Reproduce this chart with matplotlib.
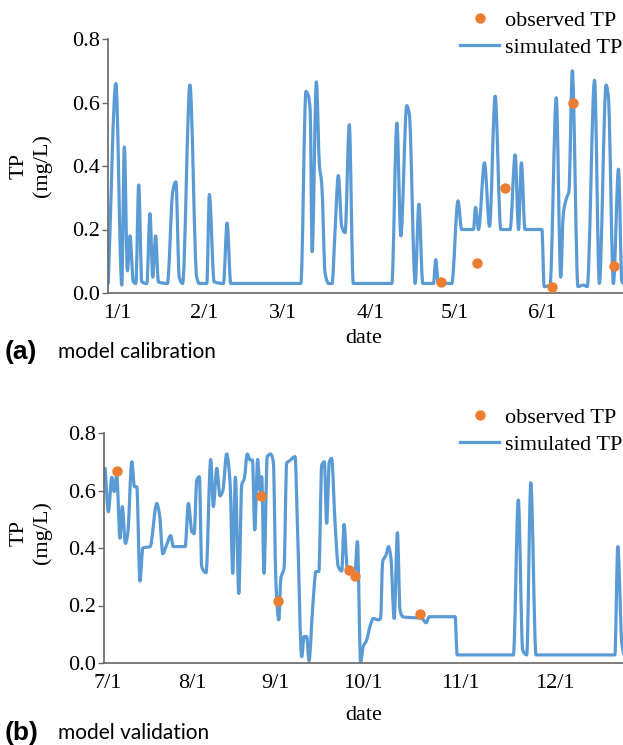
import matplotlib
matplotlib.use("Agg")
import matplotlib.pyplot as plt
import numpy as np
from matplotlib.path import Path
from matplotlib.patches import PathPatch
from matplotlib.lines import Line2D

# ---------------- data: panel (a) model calibration (days since 1/1) ----------------
cal_sim_day = [-3.1, -0.4, 1.7, 2.6, 3.7, 4.6, 5.8, 6.7, 7.7, 8.8, 10.6, 11.7, 12.7, 13.7, 14.7,
               17.9, 19.8, 20.9, 22.1, 23.3, 25.9, 28.3, 29.2, 31.9, 32.8, 34.5, 37.8, 39.1, 40.4,
               65.3, 67.1, 68.0, 68.6, 69.3, 70.8, 71.9, 72.7, 73.9, 75.1, 76.4, 77.4, 78.6, 79.8,
               81.0, 82.5, 83.9, 97.6, 99.4, 100.8, 102.9, 103.8, 105.9, 107.2, 108.6, 112.4,
               113.2, 114.1, 118.9, 121.1, 122.4, 126.6, 127.3, 128.4, 130.5, 132.3, 134.3, 136.3,
               139.6, 141.4, 142.6, 143.6, 144.9, 150.9, 151.7, 153.8, 156.0, 157.6, 158.5, 159.7,
               160.5, 161.7, 163.7, 165.6, 167.0, 169.6, 171.3, 173.7, 174.5, 176.3, 178.1, 179.3,
               180.1]
cal_sim_tp = [0.03, 0.66, 0.025, 0.46, 0.07, 0.18, 0.035, 0.03, 0.34, 0.035, 0.03, 0.25, 0.05, 0.18,
              0.035, 0.03, 0.32, 0.35, 0.05, 0.03, 0.655, 0.05, 0.03, 0.03, 0.31, 0.035, 0.03, 0.22,
              0.03, 0.03, 0.635, 0.62, 0.575, 0.13, 0.665, 0.40, 0.345, 0.063, 0.03, 0.03, 0.19,
              0.37, 0.21, 0.19, 0.53, 0.03, 0.03, 0.535, 0.18, 0.59, 0.565, 0.03, 0.28, 0.03, 0.03,
              0.105, 0.03, 0.03, 0.29, 0.20, 0.20, 0.27, 0.20, 0.41, 0.21, 0.62, 0.20, 0.20, 0.435,
              0.20, 0.41, 0.20, 0.20, 0.02, 0.025, 0.615, 0.05, 0.25, 0.30, 0.32, 0.70, 0.02, 0.025,
              0.02, 0.67, 0.03, 0.655, 0.62, 0.03, 0.39, 0.035, 0.03]
cal_obs_day = [115.1, 128.0, 137.9, 154.6, 161.8, 176.6]
cal_obs_tp = [0.035, 0.095, 0.33, 0.02, 0.60, 0.085]
cal_tick_pos = [0, 31, 59, 90, 120, 151]
cal_tick_lab = ["1/1", "2/1", "3/1", "4/1", "5/1", "6/1"]

# ---------------- data: panel (b) model validation (days since 7/1) ----------------
val_sim_day = [-1.0, 0.1, 1.3, 2.1, 3.0, 4.1, 4.9, 6.0, 6.8, 8.2, 9.1, 9.9, 11.0, 12.0, 14.5, 16.8,
               17.7, 18.9, 20.0, 21.6, 22.5, 26.6, 27.7, 28.9, 29.7, 30.6, 31.5, 32.3, 33.8, 35.4,
               36.3, 37.5, 38.6, 39.6, 40.9, 42.1, 43.0, 43.9, 45.1, 46.1, 47.0, 48.0, 49.0, 49.8,
               50.6, 51.6, 52.4, 53.0, 53.8, 54.9, 56.1, 57.0, 57.9, 58.9, 59.6, 60.7, 61.6, 62.8,
               64.5, 65.3, 66.8, 67.6, 68.5, 69.3, 70.6, 71.7, 72.7, 73.7, 74.6, 75.4, 76.3, 77.1,
               78.3, 79.4, 80.6, 81.4, 82.5, 83.7, 85.2, 86.0, 87.1, 88.0, 89.2, 90.3, 91.5, 93.2,
               94.0, 94.7, 95.9, 96.7, 97.5, 98.7, 99.8, 100.7, 101.6, 108.2, 109.7, 110.8, 119.7,
               120.4, 139.8, 141.5, 143.0, 144.4, 145.8, 147.6, 174.8, 175.8, 177.2, 177.9]
val_sim_tp = [0.677, 0.526, 0.646, 0.596, 0.654, 0.434, 0.544, 0.416, 0.451, 0.70, 0.613, 0.613,
              0.285, 0.40, 0.405, 0.555, 0.52, 0.38, 0.405, 0.443, 0.405, 0.405, 0.555, 0.457, 0.45,
              0.636, 0.648, 0.335, 0.314, 0.708, 0.544, 0.677, 0.581, 0.60, 0.727, 0.625, 0.312,
              0.646, 0.242, 0.619, 0.642, 0.727, 0.706, 0.706, 0.463, 0.708, 0.60, 0.648, 0.312,
              0.718, 0.727, 0.70, 0.277, 0.15, 0.295, 0.33, 0.695, 0.705, 0.718, 0.486, 0.022,
              0.092, 0.092, 0.008, 0.196, 0.318, 0.318, 0.689, 0.70, 0.486, 0.70, 0.712, 0.486,
              0.335, 0.32, 0.482, 0.33, 0.318, 0.323, 0.422, 0.005, 0.057, 0.08, 0.126, 0.155, 0.15,
              0.155, 0.352, 0.376, 0.405, 0.37, 0.155, 0.453, 0.184, 0.161, 0.155, 0.14, 0.161,
              0.161, 0.028, 0.028, 0.567, 0.045, 0.028, 0.627, 0.028, 0.028, 0.405, 0.068, 0.03]
val_obs_day = [3.0, 52.7, 58.5, 83.0, 85.2, 107.6]
val_obs_tp = [0.669, 0.581, 0.217, 0.323, 0.304, 0.169]
val_tick_pos = [0, 29, 57.6, 88, 121.4, 154.1]
val_tick_lab = ["7/1", "8/1", "9/1", "10/1", "11/1", "12/1"]

y_ticks = [0.0, 0.2, 0.4, 0.6, 0.8]

BLUE = "#5B9BD5"
ORANGE = "#ED7D31"
SERIF = ["Liberation Serif", "DejaVu Serif"]
FS = 16

W, H = 623, 745
fig = plt.figure(figsize=(W / 100, H / 100), dpi=100)


def smooth_path(xs, ys):
    """Smoothed line drawn as cubic Bezier segments through every data point
    (shape-preserving tangents, so no overshoot)."""
    x = np.asarray(xs, float)
    y = np.asarray(ys, float)
    n = len(x)
    dx = np.diff(x)
    m = np.diff(y) / dx
    t = np.zeros(n)
    t[0], t[-1] = m[0], m[-1]
    for k in range(1, n - 1):
        if m[k - 1] * m[k] > 0:
            w1 = 2 * dx[k] + dx[k - 1]
            w2 = dx[k] + 2 * dx[k - 1]
            t[k] = (w1 + w2) / (w1 / m[k - 1] + w2 / m[k])
    verts = [(x[0], y[0])]
    codes = [Path.MOVETO]
    for i in range(n - 1):
        h = dx[i] / 3.0
        verts += [(x[i] + h, y[i] + t[i] * h), (x[i + 1] - h, y[i + 1] - t[i + 1] * h),
                  (x[i + 1], y[i + 1])]
        codes += [Path.CURVE4] * 3
    return Path(verts, codes)


def make_panel(rect, sdays, stp, odays, otp, tpos, tlab, xlim, leg_anchor):
    ax = fig.add_axes(rect)
    ax.add_patch(PathPatch(smooth_path(sdays, stp), facecolor="none", edgecolor=BLUE,
                           lw=2.3, joinstyle="round", capstyle="round", zorder=2))
    ax.plot(odays, otp, "o", color=ORANGE, ms=7.5, mec="none", label="observed TP", zorder=3)
    ax.set_xlim(*xlim)
    ax.set_ylim(0, 0.8)
    ax.set_yticks(y_ticks)
    ax.set_yticklabels([f"{v:.1f}" for v in y_ticks], family=SERIF, fontsize=FS)
    ax.set_xticks(tpos)
    ax.set_xticklabels(tlab, family=SERIF, fontsize=FS)
    ax.tick_params(axis="x", length=0, pad=8)
    ax.tick_params(axis="y", length=4, width=1, color="#666666", pad=1.5)
    for s in ["top", "right"]:
        ax.spines[s].set_visible(False)
    for s in ["left", "bottom"]:
        ax.spines[s].set_color("#666666")
        ax.spines[s].set_linewidth(1.2)
    ax.patch.set_alpha(0)
    obs_handle = ax.get_legend_handles_labels()[0][0]
    sim_handle = Line2D([], [], color=BLUE, lw=2.3)
    ax.legend([obs_handle, sim_handle], ["observed TP", "simulated TP"], loc="upper right",
              bbox_to_anchor=leg_anchor, bbox_transform=fig.transFigure, frameon=False,
              prop={"family": SERIF, "size": FS}, handlelength=1.75,
              handletextpad=0.25, labelspacing=0.3, borderpad=0, borderaxespad=0)
    return ax


ax1 = make_panel([108 / W, 1 - 293 / H, (W - 108) / W, 254 / H],
                 cal_sim_day, cal_sim_tp, cal_obs_day, cal_obs_tp,
                 cal_tick_pos, cal_tick_lab, (-3.2, 179.7), (622 / W, 1 - 10 / H))
ax2 = make_panel([104 / W, 1 - 663 / H, (W - 104) / W, 230 / H],
                 val_sim_day, val_sim_tp, val_obs_day, val_obs_tp,
                 val_tick_pos, val_tick_lab, (-1.4, 177.6), (622 / W, 1 - 407 / H))

# axis titles
for yc in (166, 533):
    fig.text(31 / W, 1 - yc / H, "TP\n(mg/L)", rotation=90, ha="center", va="center",
             multialignment="center", family=SERIF, fontsize=FS, linespacing=1.25)
for yc in (338, 716):
    fig.text(364 / W, 1 - yc / H, "date", ha="center", va="center", family=SERIF, fontsize=FS)

# panel captions
for yc, tag, cap in ((352, "(a)", "model calibration"), (733, "(b)", "model validation")):
    fig.text(5 / W, 1 - yc / H, tag, ha="left", va="center", family="Liberation Sans",
             fontweight="bold", fontsize=19)
    fig.text(58 / W, 1 - yc / H, cap, ha="left", va="center", family="Lato", fontsize=15)

fig.savefig("out.png", dpi=100)
